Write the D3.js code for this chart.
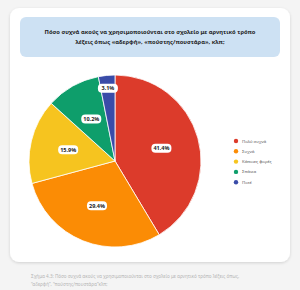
<!DOCTYPE html>
<html>
<head>
<meta charset="utf-8">
<script src="https://cdn.jsdelivr.net/npm/d3@7"></script>
<style>
  body { margin: 0; background: #f4f4f4; }
  svg { display: block; font-family: "Noto Sans", "Open Sans", sans-serif; }
</style>
</head>
<body>
<script>
// data
var categories = ["Πολύ συχνά", "Συχνά", "Κάποιες φορές", "Σπάνια", "Ποτέ"];
var values = [41.4, 29.4, 15.9, 10.2, 3.1];
var colors = ["#dc3b2b", "#fb8c05", "#f6c41f", "#0e9e6b", "#3a4ca8"];
var titleLines = ["Πόσο συχνά ακούς να χρησιμοποιούνται στο σχολείο με αρνητικό τρόπο",
                  "λέξεις όπως «αδερφή», «πούστης/πουστάρα», κλπ;"];
var captionLines = ["Σχήμα 4.3: Πόσο συχνά ακούς να χρησιμοποιούνται στο σχολείο με αρνητικό τρόπο λέξεις όπως,",
                    "“αδερφή”, “πούστης/πουστάρα”κλπ;"];

var width = 300, height = 290;

var svg = d3.select("body").append("svg")
    .attr("width", width)
    .attr("height", height);

var defs = svg.append("defs");
var f = defs.append("filter").attr("id", "shadow")
    .attr("x", "-10%").attr("y", "-10%").attr("width", "120%").attr("height", "120%");
f.append("feDropShadow").attr("dx", 0).attr("dy", 1).attr("stdDeviation", 1.5)
    .attr("flood-color", "#000").attr("flood-opacity", 0.15);

//card
svg.append("rect")
    .attr("x", 10).attr("y", 8)
    .attr("width", 280).attr("height", 254)
    .attr("rx", 9)
    .attr("fill", "#fff")
    .attr("filter", "url(#shadow)");

//title box
svg.append("rect")
    .attr("x", 20).attr("y", 17)
    .attr("width", 260).attr("height", 40)
    .attr("rx", 6)
    .attr("fill", "#cde1f3");

svg.append("g").selectAll("text").data(titleLines).enter().append("text")
    .attr("x", 150)
    .attr("y", (d, i) => 34 + i * 10)
    .attr("text-anchor", "middle")
    .attr("font-size", 5.8)
    .attr("font-weight", "bold")
    .attr("fill", "#1d1d1d")
    .text(d => d);

//pie
var cx = 115, cy = 161, r = 86;

var pie = d3.pie().sort(null).value(d => d.value);
var arcs = pie(values.map((v, i) => ({name: categories[i], value: v, color: colors[i]})));

var arc = d3.arc().innerRadius(0).outerRadius(r);
var labelArc = d3.arc().innerRadius(r * 0.56).outerRadius(r * 0.56);

var g = svg.append("g").attr("transform", `translate(${cx},${cy})`);

g.selectAll("path").data(arcs).enter().append("path")
    .attr("d", arc)
    .attr("fill", d => d.data.color)
    .attr("stroke", "#fff")
    .attr("stroke-width", 0.8);

var labels = g.selectAll("g.lbl").data(arcs).enter().append("g")
    .attr("class", "lbl")
    .attr("transform", d => {
        var c = labelArc.centroid(d);
        if (d.index == 4) c = d3.arc().innerRadius(r * 0.85).outerRadius(r * 0.85).centroid(d);
        return `translate(${c[0]},${c[1]})`;
    });

labels.append("rect")
    .attr("x", -10).attr("y", -4.5)
    .attr("width", 20).attr("height", 9)
    .attr("rx", 4)
    .attr("fill", "#fff");

labels.append("text")
    .attr("text-anchor", "middle")
    .attr("dy", "0.35em")
    .attr("font-size", 5.5)
    .attr("font-weight", "bold")
    .attr("fill", "#222")
    .text(d => d.data.value.toFixed(1) + "%");

//legend
var legend = svg.append("g").attr("transform", "translate(236,141)");
var items = legend.selectAll("g").data(categories).enter().append("g")
    .attr("transform", (d, i) => `translate(0,${i * 10.3})`);
items.append("circle").attr("r", 2.2).attr("fill", (d, i) => colors[i]);
items.append("text")
    .attr("x", 6)
    .attr("dy", "0.35em")
    .attr("font-size", 4.3)
    .attr("fill", "#555")
    .text(d => d);

//caption
svg.append("g").selectAll("text").data(captionLines).enter().append("text")
    .attr("x", 31)
    .attr("y", (d, i) => 278 + i * 7.5)
    .attr("font-size", 4.6)
    .attr("fill", "#b5b5b5")
    .text(d => d);
</script>
</body>
</html>
